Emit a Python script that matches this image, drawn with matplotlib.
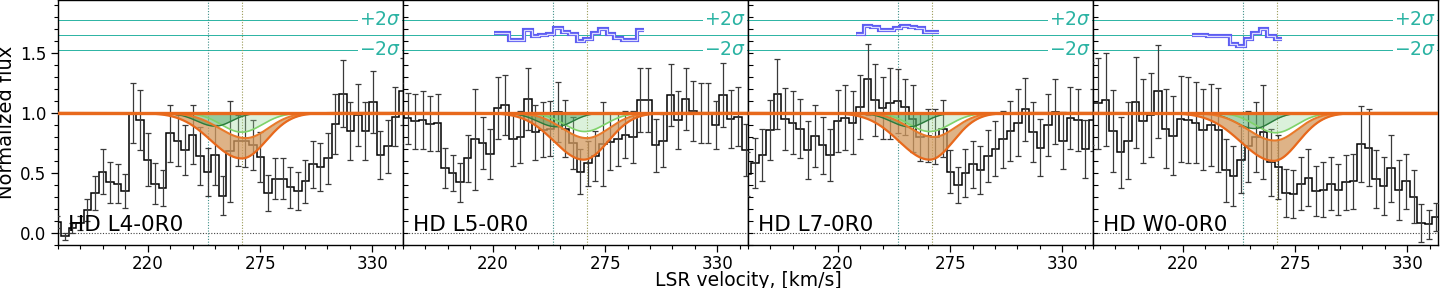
import numpy as np
import matplotlib
matplotlib.use("Agg")
import matplotlib.pyplot as plt
from matplotlib.ticker import MultipleLocator

# ---------------- data ----------------
labels = ["HD L4-0R0", "HD L5-0R0", "HD L7-0R0", "HD W0-0R0"]
bin_width = 3.68                      # km/s
grid_start = [175.72, 174.57, 175.72, 174.80]   # first bin centre per panel
n_bins = 47

flux_l4 = [0.086, -0.03, 0.04, 0.08, 0.19, 0.33, 0.51, 0.42, 0.41, 0.35, 1.00, 0.94,
           0.61, 0.41, 0.37, 0.83, 0.77, 0.69, 0.82, 0.64, 0.51, 0.65, 0.31, 0.68,
           0.77, 0.77, 0.73, 0.63, 0.33, 0.45, 0.45, 0.38, 0.35, 0.43, 0.57, 0.55,
           0.62, 0.91, 1.16, 0.85, 0.98, 0.85, 1.09, 0.65, 0.72, 0.97, 1.18]
err_l4 = [0.05, 0.03, 0.04, 0.06, 0.09, 0.14, 0.19, 0.17, 0.16, 0.14, 0.25, 0.25,
          0.22, 0.17, 0.15, 0.24, 0.21, 0.21, 0.25, 0.24, 0.20, 0.25, 0.16, 0.42,
          0.21, 0.22, 0.21, 0.21, 0.15, 0.17, 0.17, 0.17, 0.16, 0.18, 0.20, 0.20,
          0.21, 0.25, 0.28, 0.24, 0.26, 0.24, 0.26, 0.20, 0.22, 0.25, 0.28]

flux_l5 = [1.00, 0.955, 0.93, 0.94, 0.91, 0.92, 0.54, 0.50, 0.42, 0.62, 0.78, 0.75,
           0.66, 1.04, 1.07, 0.78, 0.80, 1.12, 0.84, 0.86, 0.87, 1.01, 0.87, 0.75,
           0.51, 0.58, 0.64, 0.74, 0.76, 0.78, 0.82, 0.80, 1.11, 1.11, 0.73, 0.77,
           1.15, 0.94, 1.12, 1.02, 1.00, 1.00, 0.90, 1.15, 0.95, 0.97, 0.69]
err_l5 = [0.25, 0.21, 0.23, 0.24, 0.23, 0.24, 0.17, 0.15, 0.16, 0.20, 0.42, 0.22,
          0.21, 0.26, 0.25, 0.22, 0.22, 0.26, 0.23, 0.23, 0.23, 0.25, 0.24, 0.22,
          0.19, 0.19, 0.21, 0.35, 0.24, 0.22, 0.20, 0.22, 0.27, 0.27, 0.22, 0.22,
          0.26, 0.24, 0.26, 0.25, 0.25, 0.25, 0.20, 0.27, 0.24, 0.25, 0.22]

flux_l7 = [0.49, 0.58, 0.65, 0.86, 1.16, 0.95, 0.92, 0.87, 0.69, 0.81, 0.73, 0.65,
           0.93, 0.96, 0.92, 1.05, 1.28, 1.11, 1.04, 1.08, 1.10, 1.05, 0.95, 0.80,
           0.81, 0.80, 0.87, 0.51, 0.40, 0.50, 0.57, 0.52, 0.64, 0.70, 0.78, 0.85,
           0.92, 1.03, 0.84, 0.71, 0.90, 1.01, 0.77, 0.96, 0.94, 0.70, 0.94]
err_l7 = [0.18, 0.21, 0.22, 0.25, 0.29, 0.26, 0.26, 0.25, 0.24, 0.26, 0.24, 0.22,
          0.26, 0.27, 0.26, 0.27, 0.30, 0.30, 0.26, 0.30, 0.27, 0.23, 0.28, 0.20,
          0.22, 0.23, 0.24, 0.18, 0.15, 0.20, 0.20, 0.20, 0.22, 0.23, 0.24, 0.25,
          0.28, 0.26, 0.25, 0.24, 0.26, 0.27, 0.24, 0.26, 0.26, 0.24, 0.26]

flux_w0 = [1.08, 1.08, 1.11, 0.85, 0.67, 0.77, 1.09, 0.93, 0.98, 1.18, 0.87, 0.81,
           0.95, 0.94, 0.92, 0.86, 0.90, 0.86, 0.52, 0.47, 0.61, 0.72, 0.80, 0.84,
           0.59, 0.55, 0.33, 0.32, 0.41, 0.46, 0.35, 0.36, 0.41, 0.36, 0.42, 0.43,
           0.74, 0.71, 0.45, 0.39, 0.54, 0.36, 0.43, 0.30, 0.08, 0.07, 0.13]
err_w0 = [0.35, 0.38, 0.39, 0.34, 0.30, 0.32, 0.38, 0.35, 0.35, 0.39, 0.33, 0.33,
          0.36, 0.36, 0.34, 0.34, 0.34, 0.35, 0.26, 0.25, 0.28, 0.30, 0.29, 0.39,
          0.28, 0.27, 0.20, 0.20, 0.22, 0.24, 0.21, 0.23, 0.22, 0.21, 0.23, 0.23,
          0.32, 0.32, 0.24, 0.24, 0.28, 0.25, 0.23, 0.22, 0.16, 0.12, 0.12]

fluxes = [flux_l4, flux_l5, flux_l7, flux_w0]
errors = [err_l4, err_l5, err_l7, err_w0]

# residual traces (first bin index, values)
resid_start = [None, 13, 15, 14]
resid_vals = [None,
              [1.67, 1.67, 1.61, 1.61, 1.69, 1.64, 1.65, 1.66, 1.71, 1.68, 1.66, 1.60,
               1.62, 1.67, 1.70, 1.66, 1.63, 1.61, 1.61, 1.69],
              [1.66, 1.73, 1.72, 1.69, 1.69, 1.71, 1.73, 1.72, 1.71, 1.68, 1.68],
              [1.65, 1.65, 1.645, 1.64, 1.64, 1.58, 1.56, 1.62, 1.67, 1.70, 1.645, 1.62]]
sigma_levels = [1.78, 1.655, 1.53]

# model profile parameters: depth, centre, sigma_left, sigma_right
olow = [(0.38, 266.0, 15.0, 12.0), (0.39, 264.5, 14.5, 12.0),
        (0.39, 265.0, 15.0, 11.5), (0.40, 264.5, 16.0, 12.0)]
ohigh = [(0.21, 268.0, 13.0, 11.0), (0.21, 266.0, 12.0, 11.0),
         (0.20, 267.0, 12.0, 10.5), (0.23, 265.0, 13.0, 11.0)]
gdark = [(0.11, 253.0, 9.0, 8.0), (0.115, 251.0, 9.0, 8.0),
         (0.115, 255.0, 9.0, 8.0), (0.13, 255.0, 9.0, 8.0)]
glight = [(0.16, 266.0, 10.0, 10.0), (0.155, 265.0, 10.0, 10.0),
          (0.155, 265.0, 10.0, 10.0), (0.165, 265.5, 10.0, 10.0)]
vline_a = 249.7
vline_b = 266.0

# ---------------- drawing ----------------
def profile(v, p):
    depth, c, sl, sr = p
    s = np.where(v < c, sl, sr)
    return 1.0 - depth * np.exp(-0.5 * ((v - c) / s) ** 2)

fig = plt.figure(figsize=(14.4, 2.88), dpi=100)
axes = fig.subplots(1, 4, sharey=True)
fig.subplots_adjust(left=58 / 1440, right=1438 / 1440, bottom=43 / 288, top=1.0, wspace=0)

vfine = np.linspace(170, 350, 1200)
ORANGE = "#e8691c"
TEAL = "#2ab3a3"

for k, ax in enumerate(axes):
    centres = grid_start[k] + bin_width * np.arange(n_bins)
    edges = np.append(centres - bin_width / 2, centres[-1] + bin_width / 2)
    f = np.array(fluxes[k])
    e = np.array(errors[k])

    # sigma reference lines
    for lv in sigma_levels:
        ax.axhline(lv, color=TEAL, lw=0.7, zorder=1)
    ax.text(344.0, sigma_levels[0], r"$+2\sigma$", color=TEAL, fontsize=13.5,
            ha="right", va="center", zorder=3,
            bbox=dict(facecolor="white", edgecolor="none", pad=1.0))
    ax.text(344.0, sigma_levels[2], r"$-2\sigma$", color=TEAL, fontsize=13.5,
            ha="right", va="center", zorder=3,
            bbox=dict(facecolor="white", edgecolor="none", pad=1.0))

    # zero line and component markers
    ax.axhline(0.0, color="#444444", lw=0.8, ls=(0, (1, 1.5)), zorder=1)
    ax.axvline(vline_a, color="#3f8f88", lw=0.8, ls=(0, (1, 1.5)), zorder=1)
    ax.axvline(vline_b, color="#9a9a55", lw=0.8, ls=(0, (1, 1.5)), zorder=1)

    # data
    ax.stairs(f, edges, baseline=None, color="black", lw=1.1, zorder=4)
    ax.errorbar(centres, f, yerr=e, fmt="none", ecolor="#3a3a3a", elinewidth=0.9,
                capsize=2.2, capthick=0.9, zorder=4)

    # model bands
    lo = profile(vfine, olow[k])
    hi = profile(vfine, ohigh[k])
    gd = profile(vfine, gdark[k])
    gl = profile(vfine, glight[k])
    ax.fill_between(vfine, lo, hi, color="#d39a5f", alpha=0.75, lw=0, zorder=5)
    ax.fill_between(vfine, gl, 1.0, color="#9ad79a", alpha=0.35, lw=0, zorder=5)
    ax.fill_between(vfine, gd, 1.0, color="#3d9c55", alpha=0.45, lw=0, zorder=5)
    ax.plot(vfine, gl, color="#7fd36a", lw=1.2, zorder=6)
    ax.plot(vfine, gd, color="#2a7a3c", lw=1.0, zorder=6)
    ax.plot(vfine, hi, color="#e87a2a", lw=1.5, zorder=6)
    ax.plot(vfine, lo, color=ORANGE, lw=1.6, zorder=6)
    ax.axhline(1.0, color=ORANGE, lw=2.4, zorder=7)

    # residual trace
    if resid_start[k] is not None:
        i0 = resid_start[k]
        vals = np.array(resid_vals[k])
        redges = edges[i0:i0 + len(vals) + 1]
        ax.stairs(vals, redges, baseline=None, color="#5d5df2", lw=3.0, zorder=8)
        ax.stairs(vals, redges, baseline=None, color="#dcdcff", lw=0.9, zorder=9)

    ax.text(0.029, 0.04, labels[k], transform=ax.transAxes, fontsize=15.5,
            ha="left", va="bottom", color="black", zorder=10)

    ax.set_xlim(176, 345)
    ax.set_ylim(-0.103, 1.944)
    ax.xaxis.set_major_locator(MultipleLocator(55))
    ax.xaxis.set_minor_locator(MultipleLocator(11))
    ax.yaxis.set_major_locator(MultipleLocator(0.5))
    ax.yaxis.set_minor_locator(MultipleLocator(0.1))
    ax.tick_params(axis="x", which="major", direction="out", length=5, width=0.9,
                   labelsize=12, pad=2.5)
    ax.tick_params(axis="x", which="minor", direction="out", length=3, width=0.8)
    if k == 0:
        ax.tick_params(axis="y", which="major", direction="out", length=5, width=0.9,
                       labelsize=12)
        ax.tick_params(axis="y", which="minor", direction="out", length=3, width=0.8)
    else:
        ax.tick_params(axis="y", which="both", direction="in", length=3.5, width=0.8,
                       labelleft=False)
    for sp in ax.spines.values():
        sp.set_linewidth(1.0)

fig.text(7 / 1440, 1 - 122 / 288, "Normalized flux", rotation=90, fontsize=14,
         ha="center", va="center")
fig.text(748 / 1440, 7 / 288, "LSR velocity, [km/s]", fontsize=13.5,
         ha="center", va="center")

fig.savefig("out.png", dpi=100)
